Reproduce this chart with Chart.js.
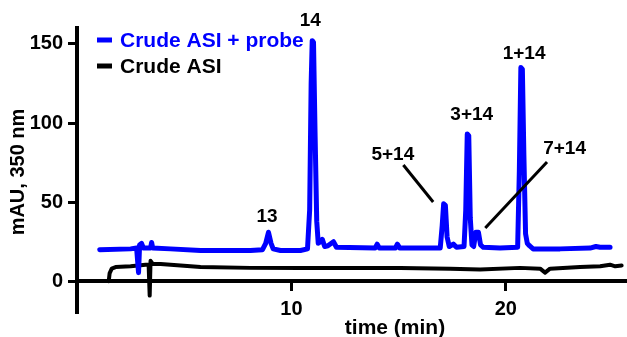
<!DOCTYPE html>
<html>
<head>
<meta charset="utf-8">
<script src="https://cdn.jsdelivr.net/npm/chart.js@4/dist/chart.umd.min.js"></script>
<style>
  html, body { margin: 0; padding: 0; background: #fff; }
  #chart { display: block; }
</style>
</head>
<body>
<canvas id="chart" width="627" height="337"></canvas>
<script>
// Crude ASI + probe (blue trace)
const blueTime = [1.06, 2.5, 2.78, 2.87, 2.92, 3.01, 3.1, 3.43, 3.48, 3.53, 4.36, 5.76, 8.09, 8.65, 8.8, 8.93, 9.05, 9.15, 9.49,
  10.42, 10.75, 10.85, 10.92, 10.97, 11.03, 11.1, 11.18, 11.25, 11.35, 11.44, 11.55, 11.7, 11.96, 12.1, 13.9, 14.0, 14.1,
  14.85, 14.94, 15.05, 16.94, 17.03, 17.1, 17.18, 17.26, 17.36, 17.55, 17.7, 18.05, 18.13, 18.2, 18.27, 18.34, 18.42, 18.5,
  18.6, 18.72, 18.82, 18.95, 19.73, 20.55, 20.63, 20.7, 20.77, 20.84, 20.92, 21.0, 21.1, 21.27, 22.53, 23.93, 24.2, 24.39, 24.86];
const blueMAU = [20, 20.5, 21, 5.5, 23, 24, 21, 21, 24.5, 21, 20.5, 19.5, 19.5, 20, 24, 31, 24, 20.5, 19.5,
  19.5, 20.5, 45, 125, 152, 151, 95, 38, 24, 25, 26.5, 22, 22.5, 25, 21.5, 21, 23.5, 21,
  21, 23.5, 21, 21, 35, 49, 48, 28, 22, 23.5, 21.5, 22, 45, 93, 92, 40, 23, 22,
  31, 31, 23, 21.5, 21, 21.5, 70, 135, 134, 80, 30, 24, 22.5, 20.5, 20.5, 21, 22, 21.5, 21.5];

// Crude ASI (black trace)
const blackTime = [1.48, 1.52, 1.62, 1.8, 2.5, 3.2, 3.34, 3.39, 3.43, 3.53, 3.9, 4.83, 5.76, 8.09, 10.42, 15.08,
  17.4, 18.8, 20.66, 21.6, 21.83, 22.06, 23.46, 24.4, 24.86, 25.1, 25.4];
const blackMAU = [0, 5, 8, 9, 9.5, 10.5, 10.5, -9, 13, 11, 11, 10, 9, 8.5, 8.5, 8.5,
  8, 7.5, 8.5, 8, 5.5, 8, 9, 9.5, 10.5, 9.5, 10];

const seriesNames = ['Crude ASI + probe', 'Crude ASI'];
const xTickValues = [10, 20];
const yTickValues = [0, 50, 100, 150];

// peak labels, placed in data coordinates (time, mAU)
const peakNames = ['14', '13', '5+14', '3+14', '1+14', '7+14'];
const peakLabelAt = [[10.88, 164.4], [8.86, 40.9], [14.73, 79.8], [18.41, 105], [20.85, 143.9], [22.74, 83.6]];
const leaderLines = [[[15.22, 73.5], [16.61, 50.1]], [[21.92, 75.4], [19.04, 33.7]]];

const FONT = "'Liberation Sans', Arial, sans-serif";
const BLUE = '#0000ff';

const toPoints = (xs, ys) => xs.map((x, i) => ({ x: x, y: ys[i] }));

const overlay = {
  id: 'overlay',
  afterDraw(chart) {
    const ctx = chart.ctx;
    const xs = chart.scales.x, ys = chart.scales.y;
    ctx.save();
    ctx.fillStyle = '#000';
    ctx.textAlign = 'center';
    ctx.textBaseline = 'middle';
    ctx.font = 'bold 19px ' + FONT;
    peakNames.forEach((name, i) => {
      const p = peakLabelAt[i];
      ctx.fillText(name, xs.getPixelForValue(p[0]), ys.getPixelForValue(p[1]));
    });
    ctx.strokeStyle = '#000';
    ctx.lineWidth = 3;
    leaderLines.forEach(l => {
      ctx.beginPath();
      ctx.moveTo(xs.getPixelForValue(l[0][0]), ys.getPixelForValue(l[0][1]));
      ctx.lineTo(xs.getPixelForValue(l[1][0]), ys.getPixelForValue(l[1][1]));
      ctx.stroke();
    });

    // legend
    ctx.textAlign = 'left';
    ctx.font = 'bold 21px ' + FONT;
    chart.data.datasets.forEach((ds, i) => {
      const y = 40 + i * 26;
      ctx.strokeStyle = ds.borderColor;
      ctx.lineWidth = 5;
      ctx.beginPath();
      ctx.moveTo(97, y);
      ctx.lineTo(112, y);
      ctx.stroke();
      ctx.fillStyle = ds.borderColor;
      ctx.fillText(ds.label, 120, y + 1);
    });

    // axis titles
    ctx.fillStyle = '#000';
    ctx.textAlign = 'center';
    ctx.font = 'bold 21px ' + FONT;
    ctx.fillText('time (min)', 395, 328);
    ctx.font = 'bold 20px ' + FONT;
    ctx.translate(18, 172);
    ctx.rotate(-Math.PI / 2);
    ctx.fillText('mAU, 350 nm', 0, 0);
    ctx.restore();
  }
};

new Chart(document.getElementById('chart').getContext('2d'), {
  type: 'line',
  data: {
    datasets: [{
      label: seriesNames[0],
      data: toPoints(blueTime, blueMAU),
      borderColor: BLUE,
      borderWidth: 5,
      pointRadius: 0,
      tension: 0,
      borderJoinStyle: 'round',
      borderCapStyle: 'round'
    }, {
      label: seriesNames[1],
      data: toPoints(blackTime, blackMAU),
      borderColor: '#000',
      borderWidth: 4,
      pointRadius: 0,
      tension: 0,
      borderJoinStyle: 'round',
      borderCapStyle: 'round'
    }]
  },
  options: {
    responsive: false,
    animation: false,
    layout: { padding: { left: 0, right: 0, top: 28, bottom: 24 } },
    plugins: {
      legend: { display: false },
      tooltip: { enabled: false }
    },
    scales: {
      x: {
        type: 'linear',
        min: 0,
        max: 25.65,
        position: { y: 0 },
        afterFit(scale) { scale.height = 0; },
        afterBuildTicks(scale) { scale.ticks = xTickValues.map(v => ({ value: v })); },
        grid: { display: true, drawOnChartArea: false, drawTicks: true, tickLength: 8, tickWidth: 3, tickColor: '#000' },
        border: { display: true, color: '#000', width: 4 },
        ticks: { color: '#000', padding: 8, maxRotation: 0, font: { family: FONT, size: 20, weight: 'bold' } }
      },
      y: {
        min: -20,
        max: 160,
        afterFit(scale) { scale.width = 77; },
        afterBuildTicks(scale) { scale.ticks = yTickValues.map(v => ({ value: v })); },
        grid: { display: true, drawOnChartArea: false, drawTicks: true, tickLength: 9, tickWidth: 3, tickColor: '#000' },
        border: { display: true, color: '#000', width: 4 },
        ticks: { color: '#000', padding: 5, font: { family: FONT, size: 20, weight: 'bold' } }
      }
    }
  },
  plugins: [overlay]
});
</script>
</body>
</html>
